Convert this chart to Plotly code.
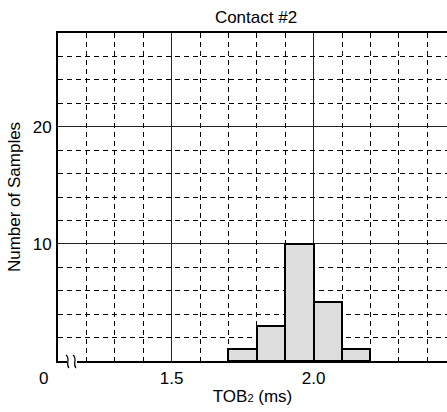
import plotly.graph_objects as go

# Data
bin_left = [1.7, 1.8, 1.9, 2.0, 2.1]
bin_width = 0.1
counts = [1, 3, 10, 5, 1]
x_ticks = [1.5, 2.0]
x_tick_labels = ["1.5", "2.0"]
y_ticks = [10, 20]
y_tick_labels = ["10", "20"]

W, H = 447, 412
ML, MR, MT, MB = 58, 0, 33, 51
PW, PH = W - ML - MR, H - MT - MB

def px_x(p):
    return (p - ML) / PW

def px_y(p):
    return (H - MB - p) / PH

centers = [b + bin_width / 2 for b in bin_left]

fig = go.Figure()
fig.add_trace(go.Bar(
    x=centers, y=counts, width=[bin_width] * len(counts),
    marker=dict(color="#dcdddc", line=dict(color="black", width=2)),
    hoverinfo="skip", showlegend=False,
))

font = dict(family="Liberation Sans, Arial, sans-serif", size=17, color="black")

fig.update_layout(
    width=W, height=H,
    margin=dict(l=ML, r=MR, t=MT, b=MB, pad=0),
    paper_bgcolor="white", plot_bgcolor="white",
    font=font,
    title=dict(text="Contact #2", x=256 / W, xanchor="center", y=1 - 17 / H, yanchor="middle",
               font=dict(size=17)),
    bargap=0,
    xaxis=dict(
        range=[1.1, 1.1 + PW / 284.0],
        tickmode="array", tickvals=x_ticks, ticktext=x_tick_labels,
        showgrid=True, gridcolor="#222", gridwidth=1,
        minor=dict(tick0=1.1, dtick=0.1, showgrid=True, gridcolor="black",
                   gridwidth=1, griddash="5px,4px"),
        showline=True, linecolor="black", linewidth=2, mirror=True,
        ticks="outside", ticklen=1, tickcolor="rgba(0,0,0,0)",
        zeroline=False, tickfont=dict(size=17),
        title=dict(text="TOB<span style='font-size:11px'>2</span> (ms)", standoff=3,
                   font=dict(size=17)),
    ),
    yaxis=dict(
        range=[0, 28],
        tickmode="array", tickvals=y_ticks, ticktext=y_tick_labels,
        showgrid=True, gridcolor="#222", gridwidth=1,
        minor=dict(tick0=0, dtick=2, showgrid=True, gridcolor="black",
                   gridwidth=1, griddash="5px,4px"),
        showline=True, linecolor="black", linewidth=2, mirror=False,
        ticks="outside", ticklen=1, tickcolor="rgba(0,0,0,0)",
        zeroline=False, tickfont=dict(size=17),
        title=dict(text="Number of Samples", standoff=8, font=dict(size=17)),
    ),
)

# "0" label at the corner
fig.add_annotation(text="0", xref="paper", yref="paper", x=px_x(43), y=px_y(378),
                   showarrow=False, font=dict(size=17), xanchor="center", yanchor="middle")

# Axis break symbol
fig.add_shape(type="rect", xref="paper", yref="paper",
              x0=px_x(67), x1=px_x(77), y0=px_y(364), y1=px_y(358),
              fillcolor="white", line=dict(width=0), layer="above")
for ox in (0, 7):
    x0 = 66 + ox
    path = "M {:.4f},{:.4f} C {:.4f},{:.4f} {:.4f},{:.4f} {:.4f},{:.4f}".format(
        px_x(x0), px_y(355), px_x(x0 + 5), px_y(359), px_x(x0 - 1), px_y(364), px_x(x0 + 3), px_y(368))
    fig.add_shape(type="path", xref="paper", yref="paper", path=path,
                  line=dict(color="black", width=1.2), layer="above")

fig.write_html("out.html", config={"displayModeBar": False},
               post_script="document.body.style.margin='0';document.body.style.overflow='hidden';")
